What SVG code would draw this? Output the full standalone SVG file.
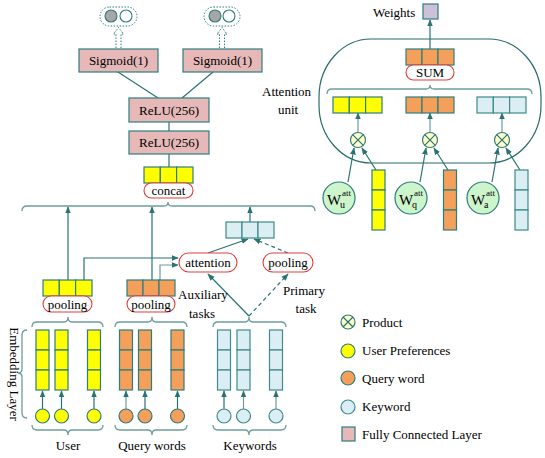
<svg xmlns="http://www.w3.org/2000/svg" width="545" height="458" viewBox="0 0 545 458">
<defs>
<marker id="ah" viewBox="0 0 10 10" refX="9" refY="5" markerWidth="6" markerHeight="6" orient="auto-start-reverse">
<path d="M0,1 L10,5 L0,9 z" fill="#2a7373"/>
</marker>
<style>
text{font-family:"Liberation Serif","Times New Roman",serif;font-size:13px;fill:#000}
.c{text-anchor:middle}
.ln{stroke:#2a7373;stroke-width:1.2;fill:none}
.lg{stroke:#6d9c9c;stroke-width:1.2;fill:none}
.da{stroke-dasharray:4 3}
.br{stroke:#6d9c9c;stroke-width:1.3;fill:none}
.fc{fill:#e6b9b8;stroke:#2e7d7d;stroke-width:1.2}
.y{fill:#ffff00;stroke:#2e7d7d;stroke-width:1.2}
.o{fill:#f5a05a;stroke:#2e7d7d;stroke-width:1.2}
.b{fill:#daeef3;stroke:#3f8a8a;stroke-width:1.2}
.pill{fill:#fff;stroke:#e03c3c;stroke-width:1.1}
.w{fill:#ccf5cc;stroke:#2e7d7d;stroke-width:1.2}
.pr{fill:#ffffcc;stroke:#2e7d7d;stroke-width:1.2}
.dot{fill:none;stroke:#2e7d7d;stroke-width:1;stroke-dasharray:1.5 1.5}
.W{font-size:15px}
.sup{font-size:9px}
.sub{font-size:10px}
</style>
</defs>

<!-- connectors -->
<g id="connectors">
  <line class="ln" x1="118" y1="72" x2="158" y2="98"/>
  <line class="ln" x1="213" y1="72" x2="182" y2="98"/>
  <line class="ln" x1="169" y1="122" x2="169" y2="131"/>
  <line class="ln" x1="169" y1="154" x2="169" y2="167"/>
  <line class="ln" x1="68" y1="280" x2="68" y2="207" marker-end="url(#ah)"/>
  <line class="ln" x1="152" y1="280" x2="152" y2="207" marker-end="url(#ah)"/>
  <line class="ln" x1="250" y1="222" x2="250" y2="207" marker-end="url(#ah)"/>
  <polyline class="ln" points="84,280 84,258 178,258" marker-end="url(#ah)"/>
  <polyline class="lg" points="160,280 160,265 178,265" marker-end="url(#ah)"/>
  <line class="ln" x1="208" y1="253" x2="248" y2="239" marker-end="url(#ah)"/>
  <line class="ln da" x1="288" y1="253" x2="254" y2="239" marker-end="url(#ah)"/>
  <line class="ln" x1="249" y1="316" x2="208" y2="274" marker-end="url(#ah)"/>
  <line class="ln da" x1="249" y1="316" x2="288" y2="274" marker-end="url(#ah)"/>
  <g>
    <line class="ln" x1="42.5" y1="409" x2="42.5" y2="391" marker-end="url(#ah)"/>
    <line class="ln" x1="61.5" y1="409" x2="61.5" y2="391" marker-end="url(#ah)"/>
    <line class="ln" x1="94" y1="409" x2="94" y2="391" marker-end="url(#ah)"/>
    <line class="lg" x1="126" y1="409" x2="126" y2="391" marker-end="url(#ah)"/>
    <line class="ln" x1="145" y1="409" x2="145" y2="391" marker-end="url(#ah)"/>
    <line class="ln" x1="177.5" y1="409" x2="177.5" y2="391" marker-end="url(#ah)"/>
    <line class="ln" x1="224" y1="409" x2="224" y2="391" marker-end="url(#ah)"/>
    <line class="lg" x1="243.5" y1="409" x2="243.5" y2="391" marker-end="url(#ah)"/>
    <line class="lg" x1="276" y1="409" x2="276" y2="391" marker-end="url(#ah)"/>
  </g>
  <line class="ln" x1="430" y1="49" x2="430" y2="20" marker-end="url(#ah)"/>
  <line class="lg" x1="358" y1="132" x2="358" y2="113" marker-end="url(#ah)"/>
  <line class="lg" x1="430" y1="132" x2="430" y2="113" marker-end="url(#ah)"/>
  <line class="lg" x1="502" y1="132" x2="502" y2="113" marker-end="url(#ah)"/>
  <line class="ln" x1="348" y1="182" x2="354" y2="148" marker-end="url(#ah)"/>
  <line class="ln" x1="376" y1="170" x2="362" y2="148" marker-end="url(#ah)"/>
  <line class="ln" x1="420" y1="182" x2="426" y2="148" marker-end="url(#ah)"/>
  <line class="ln" x1="448" y1="170" x2="434" y2="148" marker-end="url(#ah)"/>
  <line class="ln" x1="492" y1="182" x2="498" y2="148" marker-end="url(#ah)"/>
  <line class="ln" x1="520" y1="170" x2="506" y2="148" marker-end="url(#ah)"/>
</g>

<!-- braces -->
<g id="braces">
  <path class="br" d="M22,211 Q22,206 27,206 L164,206 Q168,206 168,202 Q168,206 172,206 L310,206 Q315,206 315,211"/>
  <path class="br" d="M32,327 Q32,322 37,322 L64,322 Q68,322 68,317 Q68,322 72,322 L98,322 Q103,322 103,327"/>
  <path class="br" d="M115,327 Q115,322 120,322 L148,322 Q152,322 152,317 Q152,322 156,322 L182,322 Q187,322 187,327"/>
  <path class="br" d="M213,327 Q213,322 218,322 L245,322 Q249,322 249,317 Q249,322 253,322 L281,322 Q286,322 286,327"/>
  <path class="br" d="M32,425 Q32,430 37,430 L64,430 Q68,430 68,435 Q68,430 72,430 L98,430 Q103,430 103,425"/>
  <path class="br" d="M115,425 Q115,430 120,430 L148,430 Q152,430 152,435 Q152,430 156,430 L182,430 Q187,430 187,425"/>
  <path class="br" d="M213,425 Q213,430 218,430 L245,430 Q249,430 249,435 Q249,430 253,430 L281,430 Q286,430 286,425"/>
  <path class="br" d="M27,330 Q22,330 22,335 L22,369 Q22,373 18,373 Q22,373 22,377 L22,413 Q22,418 27,418"/>
  <path class="br" d="M327,94 Q327,89 332,89 L426,89 Q430,89 430,85 Q430,89 434,89 L527,89 Q532,89 532,94"/>
</g>

<g id="out1">
  <rect class="dot" x="100" y="7" width="37" height="19" rx="9.5"/>
  <circle cx="111" cy="16" r="6" fill="#a6a6a6" stroke="#2e7d7d" stroke-width="1.1"/>
  <circle cx="126" cy="16" r="6" fill="#fff" stroke="#2e7d7d" stroke-width="1.1"/>
  <path class="dot" d="M116,48 V34 H113.5 L118.5,27.5 L123.5,34 H121 V48"/>
</g>
<g id="out2">
  <rect class="dot" x="204" y="7" width="36" height="19" rx="9.5"/>
  <circle cx="215" cy="16" r="6" fill="#a6a6a6" stroke="#2e7d7d" stroke-width="1.1"/>
  <circle cx="229" cy="16" r="6" fill="#fff" stroke="#2e7d7d" stroke-width="1.1"/>
  <path class="dot" d="M219.5,48 V34 H217 L222,27.5 L227,34 H224.5 V48"/>
</g>

<g id="sigmoid1"><rect class="fc" x="79" y="49" width="79" height="23"/><text class="c" x="118.5" y="65">Sigmoid(1)</text></g>
<g id="sigmoid2"><rect class="fc" x="183" y="49" width="79" height="23"/><text class="c" x="222.5" y="65">Sigmoid(1)</text></g>
<g id="relu1"><rect class="fc" x="129" y="98" width="80" height="24"/><text class="c" x="169" y="115">ReLU(256)</text></g>
<g id="relu2"><rect class="fc" x="129" y="131" width="80" height="23"/><text class="c" x="169" y="147">ReLU(256)</text></g>

<g id="concat">
  <rect class="y" x="144" y="167" width="16.3" height="16"/><rect class="y" x="160.3" y="167" width="16.3" height="16"/><rect class="y" x="176.6" y="167" width="16.4" height="16"/>
  <rect class="pill" x="144" y="183" width="49" height="15" rx="7.5"/>
  <text class="c" x="168.5" y="195">concat</text>
</g>

<g id="keyword-vec">
  <rect class="b" x="226" y="222" width="16" height="16"/><rect class="b" x="242" y="222" width="16" height="16"/><rect class="b" x="258" y="222" width="16" height="16"/>
</g>
<g id="attention"><rect class="pill" x="179" y="253" width="58" height="19" rx="9.5"/><text class="c" x="208" y="267">attention</text></g>
<g id="pooling-k"><rect class="pill" x="263" y="253" width="50" height="19" rx="9.5"/><text class="c" x="288" y="267">pooling</text></g>

<g id="user-pool">
  <rect class="y" x="43" y="280" width="16.3" height="16"/><rect class="y" x="59.3" y="280" width="16.3" height="16"/><rect class="y" x="75.6" y="280" width="16.4" height="16"/>
  <rect class="pill" x="43" y="296" width="49" height="16" rx="8"/>
  <text class="c" x="67.5" y="308.5">pooling</text>
</g>
<g id="query-pool">
  <rect class="o" x="127" y="280" width="16" height="16"/><rect class="o" x="143" y="280" width="16" height="16"/><rect class="o" x="159" y="280" width="16" height="16"/>
  <rect class="pill" x="127" y="296" width="48" height="16" rx="8"/>
  <text class="c" x="151" y="308.5">pooling</text>
</g>

<g id="task-labels">
  <text x="178" y="299">Auxiliary</text>
  <text class="c" x="202" y="318">tasks</text>
  <text x="283" y="295">Primary</text>
  <text class="c" x="306" y="313">task</text>
</g>

<g id="embedding">
  <text class="c" transform="translate(10,374) rotate(90)">Embedding Layer</text>
  <g id="user-emb">
    <rect class="y" x="36" y="330" width="13" height="20"/><rect class="y" x="36" y="350" width="13" height="20"/><rect class="y" x="36" y="370" width="13" height="20"/>
    <rect class="y" x="55" y="330" width="13" height="20"/><rect class="y" x="55" y="350" width="13" height="20"/><rect class="y" x="55" y="370" width="13" height="20"/>
    <rect class="y" x="87.5" y="330" width="13" height="20"/><rect class="y" x="87.5" y="350" width="13" height="20"/><rect class="y" x="87.5" y="370" width="13" height="20"/>
    <circle class="y" cx="42.5" cy="416" r="7"/><circle class="y" cx="61.5" cy="416" r="7"/><circle class="y" cx="94" cy="416" r="7"/>
    <text class="c" x="68" y="450">User</text>
  </g>
  <g id="query-emb">
    <rect class="o" x="119.5" y="330" width="13" height="20"/><rect class="o" x="119.5" y="350" width="13" height="20"/><rect class="o" x="119.5" y="370" width="13" height="20"/>
    <rect class="o" x="138.5" y="330" width="13" height="20"/><rect class="o" x="138.5" y="350" width="13" height="20"/><rect class="o" x="138.5" y="370" width="13" height="20"/>
    <rect class="o" x="171" y="330" width="13" height="20"/><rect class="o" x="171" y="350" width="13" height="20"/><rect class="o" x="171" y="370" width="13" height="20"/>
    <circle class="o" cx="126" cy="416" r="7"/><circle class="o" cx="145" cy="416" r="7"/><circle class="o" cx="177.5" cy="416" r="7"/>
    <text class="c" x="152" y="450">Query words</text>
  </g>
  <g id="keyword-emb">
    <rect class="b" x="217.5" y="330" width="13" height="20"/><rect class="b" x="217.5" y="350" width="13" height="20"/><rect class="b" x="217.5" y="370" width="13" height="20"/>
    <rect class="b" x="237" y="330" width="13" height="20"/><rect class="b" x="237" y="350" width="13" height="20"/><rect class="b" x="237" y="370" width="13" height="20"/>
    <rect class="b" x="269.5" y="330" width="13" height="20"/><rect class="b" x="269.5" y="350" width="13" height="20"/><rect class="b" x="269.5" y="370" width="13" height="20"/>
    <circle class="b" cx="224" cy="416" r="7"/><circle class="b" cx="243.5" cy="416" r="7"/><circle class="b" cx="276" cy="416" r="7"/>
    <text class="c" x="250" y="450">Keywords</text>
  </g>
</g>

<g id="attention-unit">
  <rect x="319" y="39" width="222" height="124" rx="52" ry="58" fill="none" stroke="#2a6b6b" stroke-width="1.2"/>
  <text x="262" y="96">Attention</text>
  <text class="c" x="288" y="114">unit</text>
  <g id="weights">
    <text x="373" y="17">Weights</text>
    <rect x="423" y="4" width="15" height="15" fill="#ccc0da" stroke="#2e7d7d" stroke-width="1.2"/>
  </g>
  <g id="sum">
    <rect class="o" x="406" y="49" width="16" height="16"/><rect class="o" x="422" y="49" width="16" height="16"/><rect class="o" x="438" y="49" width="16" height="16"/>
    <rect class="pill" x="406" y="65" width="48" height="15" rx="7.5"/>
    <text class="c" x="430" y="77">SUM</text>
  </g>
  <g id="vec-u"><rect class="y" x="333" y="97" width="16.3" height="16"/><rect class="y" x="349.3" y="97" width="16.3" height="16"/><rect class="y" x="365.6" y="97" width="16.4" height="16"/></g>
  <g id="vec-q"><rect class="o" x="406" y="97" width="16" height="16"/><rect class="o" x="422" y="97" width="16" height="16"/><rect class="o" x="438" y="97" width="16" height="16"/></g>
  <g id="vec-a"><rect class="b" x="477" y="97" width="16.3" height="16"/><rect class="b" x="493.3" y="97" width="16.3" height="16"/><rect class="b" x="509.6" y="97" width="16.4" height="16"/></g>
  <g id="prod-u"><circle class="pr" cx="358" cy="140" r="7.5"/><path class="ln" d="M352.7,134.7 L363.3,145.3 M363.3,134.7 L352.7,145.3"/></g>
  <g id="prod-q"><circle class="pr" cx="430" cy="140" r="7.5"/><path class="ln" d="M424.7,134.7 L435.3,145.3 M435.3,134.7 L424.7,145.3"/></g>
  <g id="prod-a"><circle class="pr" cx="502" cy="140" r="7.5"/><path class="ln" d="M496.7,134.7 L507.3,145.3 M507.3,134.7 L496.7,145.3"/></g>
  <g id="wu"><circle class="w" cx="339" cy="198" r="16"/><text class="W" x="327" y="205">W</text><text class="sup" x="342" y="196">att</text><text class="sub" x="340" y="208">u</text></g>
  <g id="wq"><circle class="w" cx="411" cy="198" r="16"/><text class="W" x="399" y="205">W</text><text class="sup" x="414" y="196">att</text><text class="sub" x="412" y="208">q</text></g>
  <g id="wa"><circle class="w" cx="483" cy="198" r="16"/><text class="W" x="471" y="205">W</text><text class="sup" x="486" y="196">att</text><text class="sub" x="484" y="208">a</text></g>
  <g id="tall-u"><rect class="y" x="372" y="170" width="13" height="20"/><rect class="y" x="372" y="190" width="13" height="20"/><rect class="y" x="372" y="210" width="13" height="20"/></g>
  <g id="tall-q"><rect class="o" x="443.5" y="170" width="13" height="20"/><rect class="o" x="443.5" y="190" width="13" height="20"/><rect class="o" x="443.5" y="210" width="13" height="20"/></g>
  <g id="tall-a"><rect class="b" x="515" y="170" width="13" height="20"/><rect class="b" x="515" y="190" width="13" height="20"/><rect class="b" x="515" y="210" width="13" height="20"/></g>
</g>

<g id="legend">
  <g id="lg-product"><circle class="pr" cx="348" cy="322" r="7"/><path class="ln" d="M343,317 L353,327 M353,317 L343,327"/><text x="362" y="327">Product</text></g>
  <g id="lg-user"><circle class="y" cx="348" cy="351" r="7"/><text x="362" y="355">User Preferences</text></g>
  <g id="lg-query"><circle class="o" cx="348" cy="378" r="7"/><text x="362" y="383">Query word</text></g>
  <g id="lg-keyword"><circle class="b" cx="348" cy="407" r="7"/><text x="362" y="411">Keyword</text></g>
  <g id="lg-fc"><rect class="fc" x="342" y="427" width="13" height="14"/><text x="362" y="439">Fully Connected Layer</text></g>
</g>
</svg>
